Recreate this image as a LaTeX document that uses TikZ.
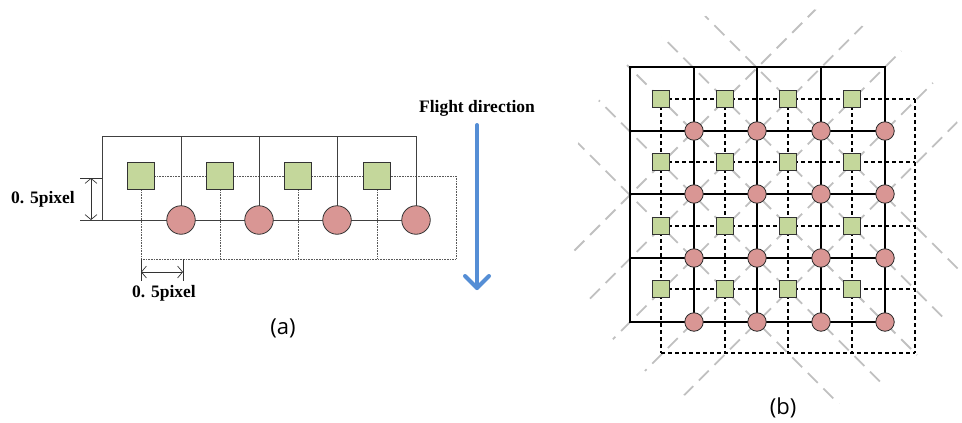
\documentclass[tikz,border=0pt]{standalone}
\usepackage{fontspec}
\setmainfont{Liberation Serif}
\newfontfamily\capfont{Open Sans}
\usetikzlibrary{arrows.meta}
\definecolor{sqgreen}{HTML}{C4D79B}
\definecolor{cired}{HTML}{D99694}
\definecolor{arrowblue}{HTML}{558ED5}
\definecolor{diaggray}{HTML}{C0C0C0}
\begin{document}
\begin{tikzpicture}[x=1pt,y=-1pt,
  sqa/.style={draw=black!80,fill=sqgreen,minimum size=27pt,inner sep=0pt,line width=0.8pt},
  cia/.style={circle,draw=black!80,fill=cired,minimum size=28.5pt,inner sep=0pt,line width=0.8pt},
  sqb/.style={draw=black!80,fill=sqgreen,minimum size=17.5pt,inner sep=0pt,line width=0.8pt},
  cib/.style={circle,draw=black!85,fill=cired,minimum size=18.5pt,inner sep=0pt,line width=0.8pt},
  solida/.style={draw=black!75,line width=0.9pt},
  dota/.style={draw=black!65,line width=0.8pt,dash pattern=on 0.8pt off 0.8pt},
  tick/.style={draw=black!80,line width=0.7pt},
  dimarrow/.style={draw=black!80,line width=0.7pt,{Straight Barb[length=5pt,width=12pt]}-{Straight Barb[length=5pt,width=12pt]}},
  solidb/.style={draw=black,line width=2pt},
  dashb/.style={draw=black,line width=2pt,dash pattern=on 4pt off 3pt},
  diagb/.style={draw=diaggray,line width=1.8pt,dash pattern=on 14pt off 8pt},
  lbl/.style={font=\bfseries\fontsize{17.5}{19}\selectfont,inner sep=0pt},
  capt/.style={font=\capfont\fontsize{22}{26}\selectfont,inner sep=0pt},
  flight/.style={draw=arrowblue,line width=4pt,line cap=round,line join=round}
]
\useasboundingbox (0,0) rectangle (962,423);

% ---------------- panel (a) ----------------
\coordinate (tl) at (102,136);
\coordinate (tr) at (416,136);
\coordinate (bl) at (102,220);
\coordinate (ll) at (80,220);
\coordinate (ut) at (80,178);
\coordinate (dr) at (456,176);
\coordinate (dbr) at (456,259);
\coordinate (dbl) at (141,259);
\foreach \i/\x in {1/141,2/220,3/298,4/377}{
  \coordinate (sqa\i) at (\x,176);
}
\foreach \i/\x in {1/181,2/259,3/337,4/416}{
  \coordinate (cia\i) at (\x,220);
}
% dotted frame
\draw[dota] (sqa1) -- (dr) -- (dbr) -- (dbl);
\foreach \i in {1,...,4}{ \draw[dota] (sqa\i) -- (sqa\i |- dbl); }
% solid frame
\draw[solida] (bl) -- (tl) -- (tr) -- (cia4);
\draw[solida] (ll) -- (cia4);
\foreach \i in {1,2,3}{ \draw[solida] (cia\i |- tl) -- (cia\i); }
% nodes
\foreach \i in {1,...,4}{
  \node[sqa] (SA\i) at (sqa\i) {};
  \node[cia] (CA\i) at (cia\i) {};
}
% dimension marks
\draw[tick] (ut) -- (tl |- ut);
\coordinate (va) at (91,178);
\coordinate (vb) at (91,220);
\draw[dimarrow] (va) -- (vb);
\coordinate (h1t) at (141,259);
\coordinate (h1b) at (141,281);
\coordinate (h2t) at (183,259);
\coordinate (h2b) at (183,281);
\draw[tick] (h1t) -- (h1b);
\draw[tick] (h2t) -- (h2b);
\coordinate (ha) at (141,272);
\coordinate (hb) at (183,272);
\draw[dimarrow] (ha) -- (hb);
\node[lbl] (lv) at (43,199) {0. 5pixel};
\node[lbl] (lh) at (164,293) {0. 5pixel};
% flight direction
\node[lbl] (fl) at (477,108) {Flight direction};
\coordinate (fa) at (477,125);
\coordinate (fb) at (477,288);
\coordinate (fh1) at (465,276);
\coordinate (fh2) at (489,276);
\draw[flight] (fa) -- (fb);
\draw[flight] (fh1) -- (fb) -- (fh2);
\node[capt] (capa) at (283,328) {(a)};

% ---------------- panel (b) ----------------
% gray diagonal lines, clipped to a circle
\begin{scope}
  \clip (772,210) circle[radius=205];
  \foreach \k in {-2,...,2}{
    \pgfmathsetmacro{\C}{562+63.6*\k}
    \draw[diagb] (450,450-\C) -- (1100,1100-\C);
  }
  \foreach \k in {0,...,4}{
    \pgfmathsetmacro{\D}{825+63.6*\k}
    \draw[diagb] (450,\D-450) -- (1100,\D-1100);
  }
\end{scope}
% coordinates
\foreach \i/\gx/\dx in {0/630/661,1/694/725,2/757/788,3/821/852,4/885/915}{
  \foreach \j/\gy/\dy in {0/67/99,1/131/162,2/194/226,3/258/289,4/322/353}{
    \coordinate (g\i\j) at (\gx,\gy);
    \coordinate (d\i\j) at (\dx,\dy);
  }
}
% dashed grid
\foreach \j in {0,...,4}{ \draw[dashb] (d0\j) -- (d4\j); }
\foreach \i in {0,...,4}{ \draw[dashb] (d\i0) -- (d\i4); }
% solid grid
\foreach \j in {0,...,4}{ \draw[solidb] (g0\j) -- (g4\j); }
\foreach \i in {0,...,4}{ \draw[solidb] (g\i0) -- (g\i4); }
\draw[solidb,line cap=rect] (g00) -- (g40) -- (g44) -- (g04) -- cycle;
% nodes
\foreach \i in {0,...,3}{
  \foreach \j in {0,...,3}{
    \node[sqb] (SB\i\j) at (d\i\j) {};
  }
}
\foreach \i in {1,...,4}{
  \foreach \j in {1,...,4}{
    \node[cib] (CB\i\j) at (g\i\j) {};
  }
}
\node[capt] (capb) at (783,408) {(b)};
\end{tikzpicture}
\end{document}
